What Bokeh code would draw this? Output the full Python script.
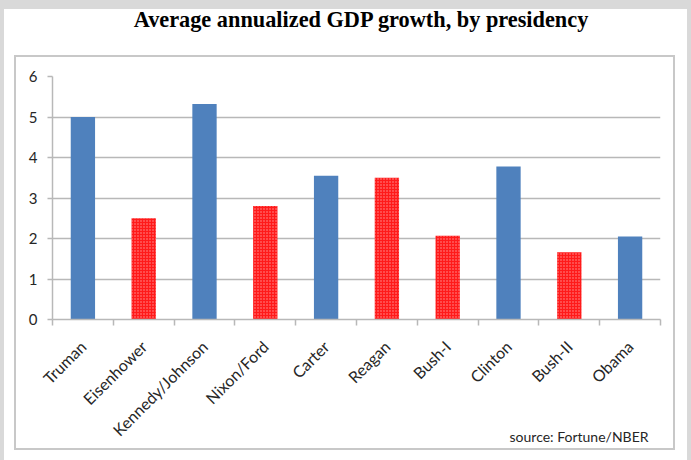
import math
from bokeh.plotting import figure
from bokeh.layouts import column
from bokeh.models import FixedTicker, Range1d, ColumnDataSource, Div, Title
from bokeh.embed import file_html
from bokeh.resources import INLINE

presidents = ["Truman", "Eisenhower", "Kennedy/Johnson", "Nixon/Ford", "Carter",
              "Reagan", "Bush-I", "Clinton", "Bush-II", "Obama"]
growth = [5.0, 2.5, 5.32, 2.8, 3.55, 3.5, 2.07, 3.78, 1.66, 2.05]
party = ["D", "R", "D", "R", "D", "R", "R", "D", "R", "D"]
y_ticks = [0, 1, 2, 3, 4, 5, 6]
title_text = "Average annualized GDP growth, by presidency"
source_text = "source: Fortune/NBER"

n = len(presidents)
centers = [i + 0.5 for i in range(n)]
bounds = list(range(n + 1))

FONT = "Lato"
TXT = "#262626"
GRID = "#b8b8b8"

p = figure(width=661, height=395, x_range=Range1d(0, n), y_range=Range1d(0, 6),
           output_backend="svg", toolbar_location=None, title=None,
           min_border_left=36, min_border_right=17, min_border_top=19, min_border_bottom=133,
           background_fill_color="white", border_fill_color="white", outline_line_color=None,
           margin=(0, 0, 0, 10),
           styles={"border": "2px solid #c8c8c8"})

def src(code):
    idx = [i for i in range(n) if party[i] == code]
    return ColumnDataSource(dict(x=[centers[i] for i in idx], top=[growth[i] for i in idx]))

p.vbar(x="x", top="top", width=0.4, bottom=0, source=src("D"),
       fill_color="#4f81bd", line_color=None)
p.vbar(x="x", top="top", width=0.4, bottom=0, source=src("R"),
       fill_color="#ff1a1a", line_color=None,
       hatch_pattern="dot", hatch_color="white", hatch_alpha=0.55, hatch_scale=3, hatch_weight=1)

xa = p.xaxis[0]
xa.ticker = FixedTicker(ticks=centers, minor_ticks=bounds)
xa.major_label_overrides = {c: name for c, name in zip(centers, presidents)}
xa.major_label_orientation = math.pi / 4
xa.major_tick_line_color = None
xa.minor_tick_out = 6
xa.minor_tick_in = 0
xa.minor_tick_line_color = GRID
xa.minor_tick_line_width = 1.5
xa.axis_line_color = GRID
xa.axis_line_width = 1.5
xa.major_label_text_font = FONT
xa.major_label_text_font_size = "16px"
xa.major_label_text_color = TXT
xa.major_label_standoff = 18

ya = p.yaxis[0]
ya.ticker = FixedTicker(ticks=y_ticks)
ya.minor_tick_line_color = None
ya.major_tick_out = 5
ya.major_tick_in = 0
ya.major_tick_line_color = GRID
ya.major_tick_line_width = 1.5
ya.axis_line_color = GRID
ya.axis_line_width = 1.5
ya.major_label_text_font = FONT
ya.major_label_text_font_size = "15px"
ya.major_label_text_color = TXT
ya.major_label_standoff = 10

p.xgrid.visible = False
p.ygrid.ticker = FixedTicker(ticks=y_ticks)
p.ygrid.grid_line_color = GRID
p.ygrid.grid_line_width = 1.5

p.add_layout(Title(text=source_text, align="right", vertical_align="top",
                   offset=12, standoff=-44,
                   text_font=FONT, text_font_size="14px", text_color=TXT,
                   text_font_style="normal"), "below")

title_div = Div(text=title_text, width=683, height=46, margin=(0, 0, 0, 0),
                styles={"font-family": "Liberation Serif", "font-weight": "bold",
                        "font-size": "22.3px", "color": "black", "text-align": "center",
                        "padding-left": "31px", "padding-top": "0px", "line-height": "22px",
                        "box-sizing": "border-box", "width": "683px"})

inner = column(title_div, p, width=683, height=451, margin=(9, 4, 0, 4),
               styles={"background-color": "white"})
root = column(inner, width=691, height=460, margin=(0, 0, 0, 0),
              styles={"background-color": "#d9d9d9"})

open("out.html", "w").write(file_html(root, INLINE))
